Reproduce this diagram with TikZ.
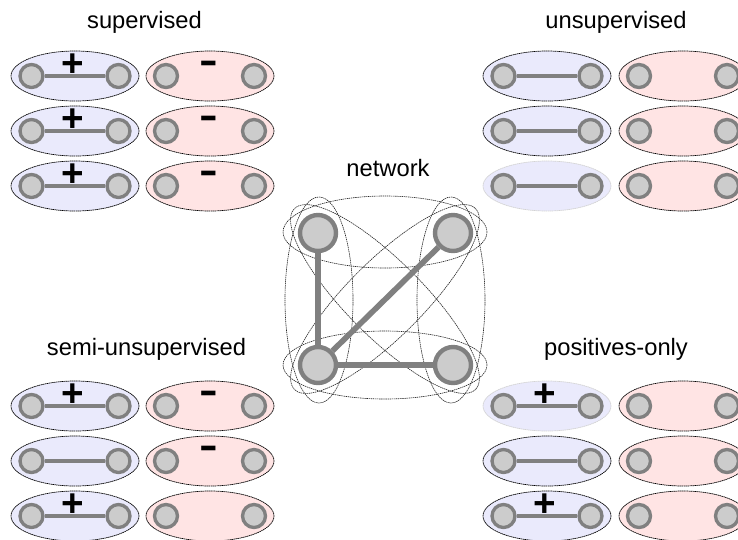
\documentclass[tikz,border=0pt]{standalone}
\usepackage{fontspec}
\setmainfont{Liberation Sans}
\usetikzlibrary{shapes.geometric}
\definecolor{posfill}{RGB}{234,234,252}
\definecolor{negfill}{RGB}{255,228,228}
\definecolor{vertfill}{RGB}{204,204,204}
\definecolor{vertline}{RGB}{128,128,128}
\tikzset{
 pairring/.style={ellipse, minimum width=2.56cm, minimum height=1.0cm, inner sep=0pt, line width=0.4pt, dash pattern=on 0.8pt off 0.3pt},
 netring/.style={draw=black!85, line width=0.35pt, dash pattern=on 0.8pt off 0.4pt},
 vert/.style={circle, fill=vertfill, draw=vertline, line width=1.9pt, minimum size=0.46cm, inner sep=0pt},
 hub/.style={circle, fill=vertfill, draw=vertline, line width=2.5pt, minimum size=0.72cm, inner sep=0pt},
 link/.style={draw=vertline, line width=2pt},
 spoke/.style={draw=vertline, line width=3.2pt},
 sign/.style={font=\fontsize{22}{22}\selectfont\bfseries, inner sep=0pt},
 title/.style={font=\fontsize{13.5}{16}\selectfont, inner sep=0pt, anchor=base},
}
\newcommand{\nega}{\scalebox{1.45}[1]{-}}
\newcommand{\posdyad}[5]{% x, y, ime, rob, znak
 \node[pairring, fill=posfill, draw=#4] (#3) at (#1,#2) {};
 \node[vert] (#3l) at (#1-43.5,#2) {};
 \node[vert] (#3r) at (#1+43.5,#2) {};
 \draw[link] (#3l) -- (#3r);
 \node[sign] (#3s) at (#1-2,#2-11) {#5};
}
\newcommand{\negdyad}[4]{% x, y, ime, znak
 \node[pairring, fill=negfill, draw=black] (#3) at (#1,#2) {};
 \node[vert] (#3l) at (#1-44,#2) {};
 \node[vert] (#3r) at (#1+44,#2) {};
 \node[sign] (#3s) at (#1-1,#2-8.5) {#4};
}
\begin{document}
\begin{tikzpicture}[x=0.02cm,y=-0.02cm]
\useasboundingbox (0,0) rectangle (738,539);

% supervised
\node[title] (tsup) at (144.5,28) {supervised};
\posdyad{75}{76}{sa}{black}{+}   \negdyad{210}{76}{sb}{\nega}
\posdyad{75}{131}{sc}{black}{+}  \negdyad{210}{131}{sd}{\nega}
\posdyad{75}{186}{se}{black}{+}  \negdyad{210}{186}{sf}{\nega}

% unsupervised
\node[title] (tuns) at (616,28) {unsupervised};
\posdyad{547}{76}{ua}{black}{}      \negdyad{683}{76}{ub}{}
\posdyad{547}{131}{uc}{black}{}     \negdyad{683}{131}{ud}{}
\posdyad{547}{186}{ue}{gray!35}{}   \negdyad{683}{186}{uf}{}

% semi-unsupervised
\node[title] (tsemi) at (146.5,355) {semi-unsupervised};
\posdyad{75}{406}{ma}{black}{+}  \negdyad{210}{406}{mb}{\nega}
\posdyad{75}{461}{mc}{black}{}   \negdyad{210}{461}{md}{\nega}
\posdyad{75}{516}{me}{black}{+}  \negdyad{210}{516}{mf}{}

% positives-only
\node[title] (tpos) at (616,355) {positives-only};
\posdyad{547}{406}{pa}{gray!35}{+}  \negdyad{683}{406}{pb}{}
\posdyad{547}{461}{pc}{black}{}     \negdyad{683}{461}{pd}{}
\posdyad{547}{516}{pe}{black}{+}    \negdyad{683}{516}{pf}{}

% network
\node[title] (tnet) at (388,176) {network};
\draw[netring] (385,232) ellipse [x radius=102, y radius=36];
\draw[netring] (385,365) ellipse [x radius=102, y radius=34];
\draw[netring] (319,300) ellipse [x radius=34, y radius=103];
\draw[netring] (451,300) ellipse [x radius=34, y radius=103];
\draw[netring, rotate around={45:(385,299)}] (385,299) ellipse [x radius=128, y radius=38];
\draw[netring, rotate around={-45:(385,299)}] (385,299) ellipse [x radius=128, y radius=38];

\node[hub] (tl) at (318,233) {};
\node[hub] (tr) at (453,233) {};
\node[hub] (bl) at (318,365) {};
\node[hub] (br) at (453,365) {};
\draw[spoke] (tl) -- (bl);
\draw[spoke] (bl) -- (tr);
\draw[spoke] (bl) -- (br);
\end{tikzpicture}
\end{document}
